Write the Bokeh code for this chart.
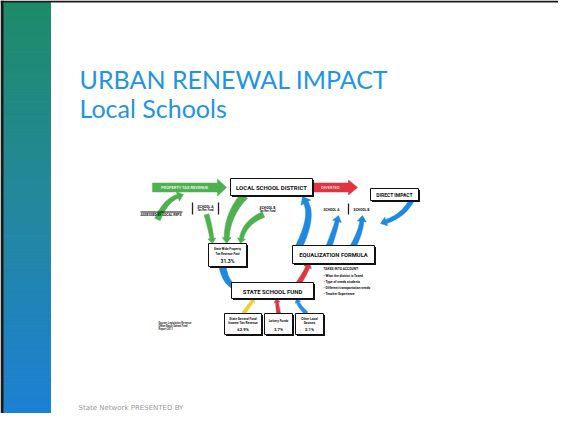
import numpy as np
from bokeh.plotting import figure
from bokeh.models import Range1d
from bokeh.core.properties import value
from bokeh.embed import file_html
from bokeh.resources import INLINE

# ---------------- content ----------------
TITLE = "URBAN RENEWAL IMPACT"
SUBTITLE = "Local Schools"
FOOTER = "State Network PRESENTED BY"
flow_in_label = "PROPERTY TAX REVENUE"
flow_out_label = "DIVERTED"
district_label = "LOCAL SCHOOL DISTRICT"
impact_label = "DIRECT IMPACT"
assessed_label = "ASSESSED BY LOCAL REPS"
school_labels = ["SCHOOL A", "SCHOOL B", "SCHOOL A", "SCHOOL B"]
school_sub = ["Tax Rev. Fund", "Tax Rev. Fund", "", ""]
pool_label = ["State Wide Property", "Tax Revenue Pool"]
pool_share = 31.3
equalization_label = "EQUALIZATION FORMULA"
state_fund_label = "STATE SCHOOL FUND"
factors_heading = "TAKES INTO ACCOUNT:"
factors = ["What the district is Taxed", "Type of needs students",
           "Different transportation needs", "Teacher Experience"]
source_labels = [["State General Fund", "Income Tax Revenue"], ["Lottery Funds"], ["Other Local", "Sources"]]
source_shares = [62.9, 3.7, 2.1]
source_colors = ["#f0d030", "#e0344a", "#2a8fe0"]
footnote = ["Source: Legislative Revenue", "Office Basic School Fund", "Report 2011"]

GREEN = "#4fb04f"
BLUE = "#1f88e0"
RED = "#e23440"
BOLD_FONT = value("Roboto")

p = figure(width=558, height=413, x_range=Range1d(0, 558), y_range=Range1d(413, 0),
           output_backend="svg", toolbar_location=None, min_border=0,
           x_axis_type=None, y_axis_type=None)
p.grid.visible = False
p.outline_line_color = None
p.background_fill_color = "white"
p.border_fill_color = "white"

# ---------------- frame and left gradient band ----------------
edges = np.linspace(2, 425, 61)
stops_y = np.array([3, 215, 425])
stops_c = np.array([[30, 140, 104], [36, 136, 160], [28, 128, 216]])
mid = (edges[:-1] + edges[1:]) / 2
cols = []
for yy in mid:
    c = [np.interp(yy, stops_y, stops_c[:, k]) for k in range(3)]
    cols.append("#%02x%02x%02x" % tuple(int(v) for v in c))
p.quad(left=3, right=50, top=edges[:-1], bottom=edges[1:], fill_color=cols, line_color=cols)
p.quad(left=[0, 0], right=[3, 574], top=[0, 0], bottom=[429, 2], fill_color="#1a1a1a", line_color=None)

# ---------------- titles ----------------
p.text(x=[79], y=[78], text=[TITLE], text_font=value("Lato"), text_font_size="25px",
       text_color="#2294e6", text_baseline="middle")
p.text(x=[79], y=[107], text=[SUBTITLE], text_font=value("Lato"), text_font_size="25px",
       text_color="#2294e6", text_baseline="middle")
p.text(x=[78], y=[407], text=[FOOTER], text_font=value("DejaVu Sans"), text_font_size="7px",
       text_color="#9a9a9a", text_baseline="middle")

# ---------------- arrows ----------------
def arrow_poly(p0, c, p1, w0, w1, hw, hl, n=24):
    p0 = np.asarray(p0, float); c = np.asarray(c, float); p1 = np.asarray(p1, float)
    d_end = p1 - c
    d_end /= np.linalg.norm(d_end)
    b = p1 - d_end * hl
    t = np.linspace(0, 1, n)[:, None]
    pts = (1 - t) ** 2 * p0 + 2 * (1 - t) * t * c + t ** 2 * b
    der = 2 * (1 - t) * (c - p0) + 2 * t * (b - c)
    der /= np.linalg.norm(der, axis=1)[:, None]
    nrm = np.column_stack([-der[:, 1], der[:, 0]])
    w = (w0 + (w1 - w0) * t) / 2
    left = pts + nrm * w
    right = pts - nrm * w
    ne = nrm[-1]
    head = np.array([b + ne * hw / 2, p1, b - ne * hw / 2])
    poly = np.vstack([left, head, right[::-1]])
    return poly[:, 0].tolist(), poly[:, 1].tolist()

arrows = [
    # (start, control, end, w0, w1, head width, head length, color)
    ((152, 187), (190, 187), (226, 187), 9, 9, 17, 9, GREEN),
    ((312, 187), (335, 187), (357, 187), 9, 9, 15, 9, RED),
    ((157, 219), (165, 200), (183, 194), 6, 4, 10, 6, GREEN),
    ((206, 214), (210, 228), (212, 243), 5, 4, 8, 5, GREEN),
    ((244, 195), (227, 214), (226, 243), 8, 5, 9, 6, GREEN),
    ((263, 214), (244, 222), (240, 243), 6, 4, 8, 5, GREEN),
    ((411, 200), (403, 215), (380, 223), 5, 4, 9, 6, BLUE),
    ((298, 247), (313, 216), (302, 196), 7, 5, 11, 7, BLUE),
    ((328, 247), (334, 231), (338, 215), 6, 4, 9, 6, BLUE),
    ((352, 247), (360, 232), (362, 215), 6, 4, 9, 6, BLUE),
    ((222, 266), (225, 282), (240, 289), 7, 5, 10, 7, BLUE),
    ((298, 283), (305, 272), (309, 262), 5, 4, 8, 5, RED),
    ((243, 313), (248, 306), (254, 298), 4, 3, 6, 4, source_colors[0]),
    ((278, 313), (277, 306), (276, 298), 4, 3, 6, 4, source_colors[1]),
    ((306, 313), (299, 306), (296, 298), 4, 3, 6, 4, source_colors[2]),
]
axs, ays, acols = [], [], []
for s, c, e, w0, w1, hw, hl, col in arrows:
    xs, ys = arrow_poly(s, c, e, w0, w1, hw, hl)
    axs.append(xs); ays.append(ys); acols.append(col)
p.patches(axs, ays, fill_color=acols, line_color=acols, line_width=0.5)

def t(x, y, s, size, align="center", bold=True, color="#111111", font=BOLD_FONT):
    p.text(x=[x], y=[y], text=[s], text_font=font, text_font_style="bold" if bold else "normal",
           text_font_size=size, text_color=color, text_align=align, text_baseline="middle")

t(184, 187, flow_in_label, "4px", color="#e6f4e6")
t(330, 187, flow_out_label, "4px", color="#f7d0d3")

# ---------------- boxes ----------------
boxes = {
    "district": (230, 312, 178, 195),
    "impact": (370, 418, 188, 200),
    "pool": (208, 246, 243, 266),
    "equal": (292, 374, 245, 263),
    "fund": (231, 313, 282, 298),
    "src0": (224, 261, 313, 334),
    "src1": (264, 292, 313, 334),
    "src2": (295, 323, 313, 334),
}
bl = [v[0] for v in boxes.values()]
br = [v[1] for v in boxes.values()]
bt = [v[2] for v in boxes.values()]
bb = [v[3] for v in boxes.values()]
p.quad(left=[v + 1.5 for v in bl], right=[v + 1.5 for v in br], top=[v + 1.5 for v in bt],
       bottom=[v + 1.5 for v in bb], fill_color="#111111", line_color=None)
p.quad(left=bl, right=br, top=bt, bottom=bb, fill_color="white", line_color="#111111", line_width=1)

t(271, 187, district_label, "6px")
t(394, 194.5, impact_label, "5px")
t(333, 254.5, equalization_label, "5.8px")
t(272, 290.5, state_fund_label, "6px")
t(227, 248.5, pool_label[0], "3px")
t(227, 253, pool_label[1], "3px")
t(227, 260, f"{pool_share}%", "5px")

centers = [242.5, 278, 309]
for cx, labs, share in zip(centers, source_labels, source_shares):
    if len(labs) == 2:
        t(cx, 318, labs[0], "3.2px")
        t(cx, 322, labs[1], "3.2px")
    else:
        t(cx, 320, labs[0], "3.2px")
    t(cx, 328.5, f"{share}%", "4.2px")

# school labels
school_pos = [(205, 206), (267, 207), (331, 209), (361, 209)]
for (sx, sy), lab, sub in zip(school_pos, school_labels, school_sub):
    t(sx, sy, lab, "3.3px")
    if sub:
        t(sx, sy + 4.5, sub, "2.6px")
p.segment(x0=[192, 218, 348], y0=[202, 202, 203], x1=[192, 218, 348], y1=[214, 214, 214],
          line_color="#222222", line_width=1.3)

# assessed label
p.segment(x0=[140], y0=[211.5], x1=[182], y1=[211.5], line_color="#111111", line_width=1)
t(140, 214.5, assessed_label, "3.3px", align="left")

# factors list
t(323, 268, factors_heading, "3.3px", align="left")
for i, f in enumerate(factors):
    t(323, 275 + 6 * i, "\u2022 " + f, "3.3px", align="left")

# footnote
for i, f in enumerate(footnote):
    t(158, 323.5 + 3 * i, f, "2.6px", align="left", color="#333333")

open("out.html", "w").write(file_html(p, INLINE))
